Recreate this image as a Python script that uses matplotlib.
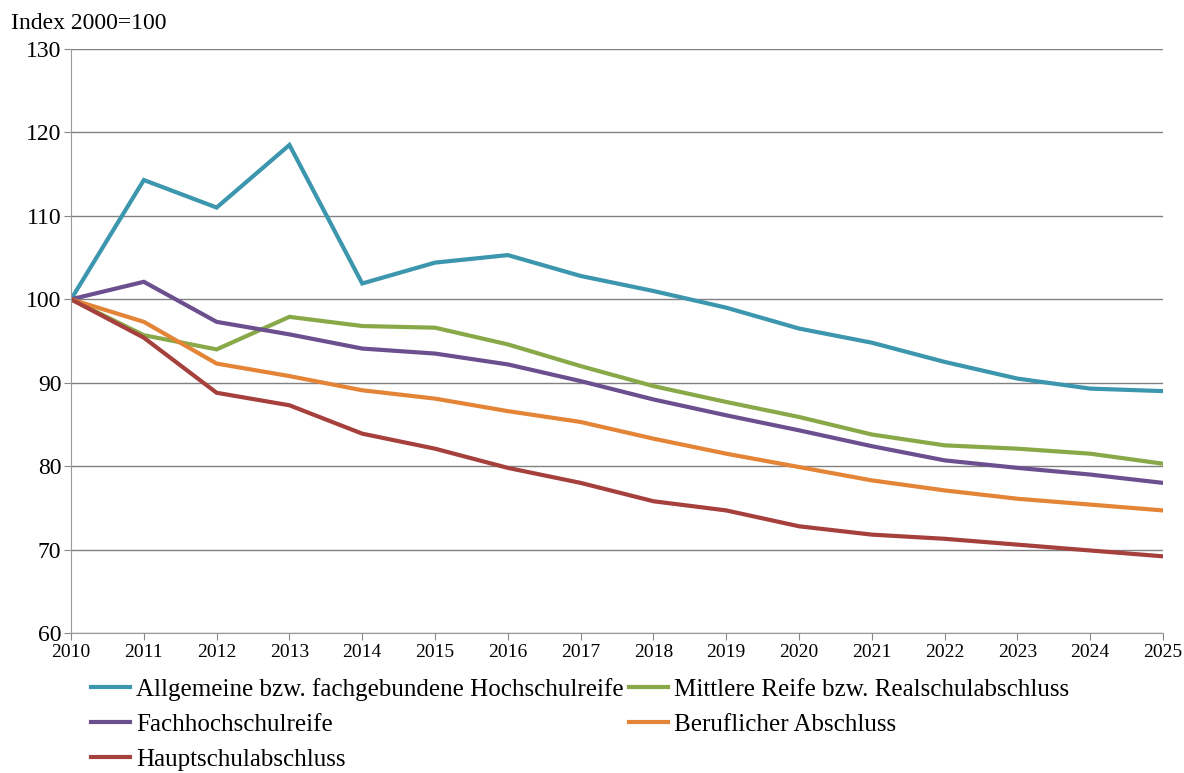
import matplotlib.pyplot as plt

# --- data (index 2010 = 100) ---
years = list(range(2010, 2026))
allgemeine = [100.0, 114.3, 111.0, 118.5, 101.9, 104.4, 105.3, 102.8, 101.0,
              99.0, 96.5, 94.8, 92.5, 90.5, 89.3, 89.0]
mittlere = [100.0, 95.7, 94.0, 97.9, 96.8, 96.6, 94.6, 92.0, 89.6,
            87.7, 85.9, 83.8, 82.5, 82.1, 81.5, 80.3]
fachhoch = [100.0, 102.1, 97.3, 95.8, 94.1, 93.5, 92.2, 90.2, 88.0,
            86.1, 84.3, 82.4, 80.7, 79.8, 79.0, 78.0]
beruflich = [100.0, 97.3, 92.3, 90.8, 89.1, 88.1, 86.6, 85.3, 83.3,
             81.5, 79.9, 78.3, 77.1, 76.1, 75.4, 74.7]
hauptschul = [100.0, 95.4, 88.8, 87.3, 83.9, 82.1, 79.8, 78.0, 75.8,
              74.7, 72.8, 71.8, 71.3, 70.6, 69.9, 69.2]

labels = ["Allgemeine bzw. fachgebundene Hochschulreife",
          "Mittlere Reife bzw. Realschulabschluss",
          "Fachhochschulreife",
          "Beruflicher Abschluss",
          "Hauptschulabschluss"]
colors = ["#3b96ae", "#89a848", "#6b4f8f", "#e38436", "#a6403c"]

plt.rcParams['font.family'] = ['Liberation Serif', 'DejaVu Serif']

fig = plt.figure(figsize=(11.84, 7.73), dpi=100)
ax = fig.add_axes([0.06, 0.181, 0.9223, 0.7556])

series = [allgemeine, mittlere, fachhoch, beruflich, hauptschul]
lines = {}
for lab, ys, c in zip(labels, series, colors):
    lines[lab], = ax.plot(years, ys, color=c, lw=3, solid_joinstyle='miter')

ax.set_xlim(2010, 2025)
ax.set_ylim(60, 130)
ax.set_xticks(years)
ax.set_yticks(range(60, 131, 10))
ax.tick_params(axis='x', labelsize=14, length=5, color='#888888', pad=3)
ax.tick_params(axis='y', labelsize=17, length=5, color='#888888', pad=2)
ax.grid(axis='y', color='#808080', lw=1)
ax.set_axisbelow(True)
for s in ['top', 'right']:
    ax.spines[s].set_visible(False)
for s in ['left', 'bottom']:
    ax.spines[s].set_color('#999999')

fig.text(0.009, 0.956, "Index 2000=100", fontsize=17, ha='left', va='bottom')

# legend: two columns, filled column-wise
order = [labels[0], labels[2], labels[4], labels[1], labels[3]]
fig.legend([lines[l] for l in order], order, ncol=2, loc='upper left',
           bbox_to_anchor=(0.0769, 0.123), frameon=False, fontsize=18,
           handlelength=1.56, handletextpad=0.24, columnspacing=0.2,
           labelspacing=0.5, borderaxespad=0, borderpad=0)

fig.savefig('out.png', dpi=100)
